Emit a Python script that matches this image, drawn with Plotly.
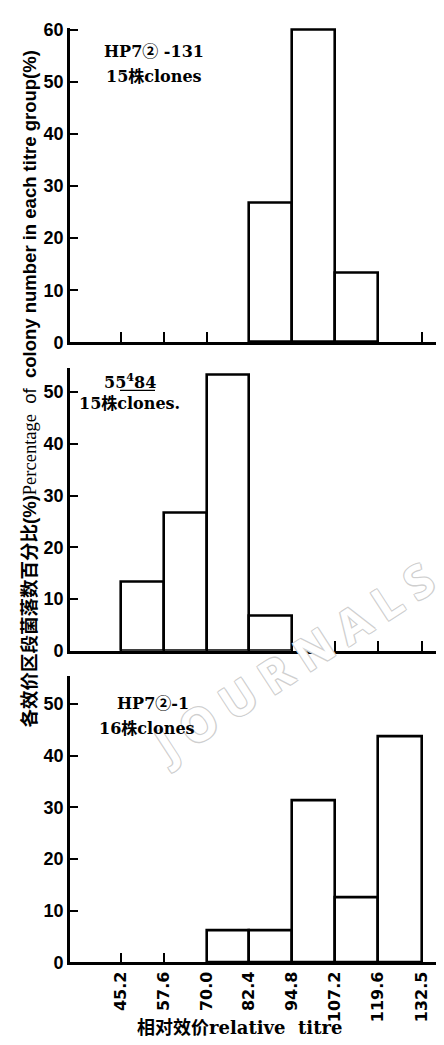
import plotly.graph_objects as go

W, H = 444, 1045

# ---- data ----
bin_edges = [45.2, 57.6, 70.0, 82.4, 94.8, 107.2, 119.6, 132.5]
tick_labels = ["45.2", "57.6", "70.0", "82.4", "94.8", "107.2", "119.6", "132.5"]
pct_hp7_131 = [0, 0, 0, 26.7, 60.0, 13.3, 0]      # 15 clones
pct_55_84 = [13.3, 26.7, 53.3, 6.7, 0, 0, 0]       # 15 clones
pct_hp7_1 = [0, 0, 6.25, 6.25, 31.25, 12.5, 43.75]  # 16 clones

centers = [(a + b) / 2 for a, b in zip(bin_edges[:-1], bin_edges[1:])]
widths = [b - a for a, b in zip(bin_edges[:-1], bin_edges[1:])]

def px_x(p):
    return p / W

def px_y(p):
    return 1 - p / H

# panel pixel extents (top, bottom) and y ranges
panels = [
    (12, 332, 60.4, list(range(0, 70, 10)), pct_hp7_131),
    (358, 646, 54.7, list(range(0, 60, 10)), pct_55_84),
    (672, 963, 55.3, list(range(0, 60, 10)), pct_hp7_1),
]

fig = go.Figure()
lay = {}
for i, (t, b, ytop, yt, vals) in enumerate(panels):
    n = "" if i == 0 else str(i + 1)
    xs = [c for c, v in zip(centers, vals) if v > 0]
    ws = [w for w, v in zip(widths, vals) if v > 0]
    vs = [v for v in vals if v > 0]
    fig.add_trace(go.Bar(
        x=xs, y=vs, width=ws, xaxis="x" + n, yaxis="y" + n,
        marker=dict(color="white", line=dict(color="black", width=2.6)),
        showlegend=False, hoverinfo="skip",
    ))
    lay["xaxis" + n] = dict(
        domain=[px_x(62), 1.0], range=[30.4, 141.2], anchor="y" + n,
        showline=True, linecolor="black", linewidth=2.6,
        showgrid=False, zeroline=False,
        tickvals=bin_edges, ticktext=tick_labels if i == 2 else [" "] * len(bin_edges),
        ticks="inside", ticklen=10, tickwidth=2, tickcolor="black",
        tickangle=-90,
        tickfont=dict(family="DejaVu Sans", size=16, color="black", weight="bold"),
    )
    lay["yaxis" + n] = dict(
        domain=[px_y(b), px_y(t)], range=[0, ytop], anchor="x" + n,
        showline=True, linecolor="black", linewidth=2.6,
        showgrid=False, zeroline=False,
        tickvals=yt, ticks="inside", ticklen=8, tickwidth=2, tickcolor="black",
        tickfont=dict(family="Liberation Sans", size=18, color="black", weight="bold"),
    )

ann = []
# watermark (first, so everything else draws above it)
ann.append(dict(
    text="J O U R N A L S", x=px_x(284), y=px_y(657), xref="paper", yref="paper",
    xanchor="center", yanchor="middle", textangle=-33,
    showarrow=False,
    font=dict(family="Noto Sans", size=46, color="white", weight="bold",
              shadow="1px 1px 0 #cfcfcf, -1px -1px 0 #cfcfcf, 1px -1px 0 #cfcfcf, -1px 1px 0 #cfcfcf"),
))

lab_font = dict(family="DejaVu Serif, Noto Sans CJK SC", size=16, color="black", weight="bold")
def lab(text, x, y, xa="left"):
    ann.append(dict(text=text, x=px_x(x), y=px_y(y), xref="paper", yref="paper",
                    xanchor=xa, yanchor="middle", showarrow=False, font=lab_font))

lab("HP7② -131", 94, 36)
lab("15株clones", 96, 62)
lab("55<sup>4</sup>84", 122, 371, "center")
lab("15株clones.", 69, 394)
lab("HP7②-1", 145, 700, "center")
lab("16株clones", 89, 725)

# y-axis title
ann.append(dict(
    text="<b>各效价区段菌落数百分比(%)</b><span style='font-family:Liberation Serif'>Percentage</span>  of  <b>colony number in each titre group(%)</b>",
    x=px_x(21), y=px_y(380), xref="paper", yref="paper", xanchor="center", yanchor="middle", textangle=-90,
    showarrow=False, font=dict(family="Liberation Sans, Noto Sans CJK SC", size=18.5, color="black"),
))
# x-axis title
ann.append(dict(
    text="<b>相对效价relative  titre</b>", x=px_x(231), y=px_y(1029), xref="paper", yref="paper",
    xanchor="center", yanchor="middle",
    showarrow=False, font=dict(family="DejaVu Serif, Noto Sans CJK SC", size=18, color="black"),
))

shapes = [dict(type="line", xref="paper", yref="paper", x0=px_x(112), x1=px_x(147),
               y0=px_y(381), y1=px_y(381), line=dict(color="black", width=1.2))]

fig.update_layout(
    width=W, height=H, margin=dict(l=0, r=0, t=0, b=0),
    paper_bgcolor="white", plot_bgcolor="rgba(0,0,0,0)",
    annotations=ann, shapes=shapes, bargap=0, **lay,
)

fig.write_html("out.html")
